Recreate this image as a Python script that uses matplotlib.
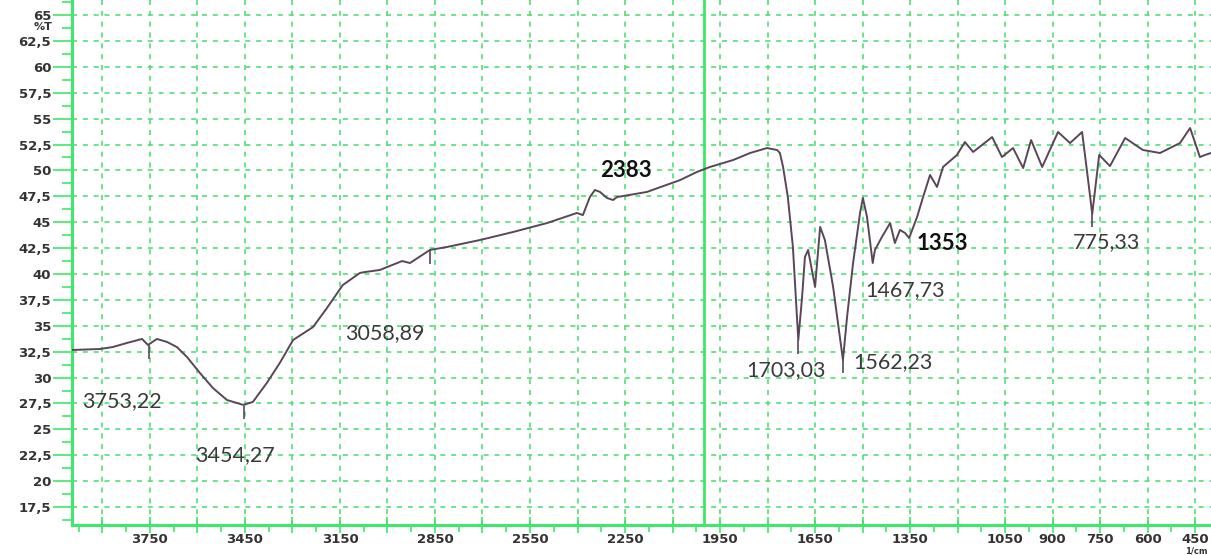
import numpy as np
import matplotlib
matplotlib.use("Agg")
import matplotlib.pyplot as plt
from matplotlib.ticker import MultipleLocator, FuncFormatter

# IR spectrum, wavenumber (1/cm) vs transmittance (%T)
wavenumber = [4000, 3908, 3867, 3823, 3775, 3756, 3728, 3696, 3665, 3633,
              3592, 3551, 3507, 3455, 3425, 3381, 3340, 3298, 3235, 3191,
              3141, 3087, 3071, 3024, 2954, 2929, 2866, 2812, 2708, 2604,
              2496, 2402, 2383, 2361, 2345, 2329, 2307, 2288, 2275, 2181,
              2076, 2023, 1982, 1909, 1855, 1802, 1770, 1761, 1751, 1736,
              1720, 1703, 1691, 1682, 1672, 1650, 1634, 1619, 1593, 1562,
              1549, 1530, 1508, 1499, 1486, 1468, 1461, 1439, 1413, 1398,
              1382, 1366, 1353, 1328, 1309, 1287, 1265, 1246, 1202, 1177,
              1151, 1091, 1060, 1025, 993, 968, 933, 883, 845, 807,
              788, 775, 753, 719, 671, 615, 561, 498, 466, 435,
              419, 400]
transmittance = [32.66, 32.76, 32.95, 33.34, 33.73, 33.15, 33.73, 33.44, 32.95, 31.99,
                 30.44, 28.99, 27.84, 27.36, 27.65, 29.48, 31.41, 33.63, 34.88, 36.72,
                 38.94, 40.10, 40.19, 40.39, 41.25, 41.06, 42.32, 42.61, 43.28, 44.05,
                 44.92, 45.89, 45.69, 47.43, 48.11, 47.92, 47.34, 47.14, 47.43, 47.92,
                 49.07, 49.85, 50.33, 51.00, 51.68, 52.16, 51.97, 51.68, 50.33, 47.43,
                 42.61, 33.63, 37.78, 41.64, 42.32, 38.75, 44.54, 43.28, 38.75, 31.70,
                 35.85, 41.06, 45.89, 47.34, 45.50, 41.06, 42.32, 43.57, 44.92, 42.99,
                 44.25, 43.96, 43.47, 45.50, 47.43, 49.56, 48.40, 50.33, 51.49, 52.74,
                 51.78, 53.22, 51.29, 52.16, 50.23, 52.93, 50.33, 53.71, 52.64, 53.71,
                 49.07, 45.79, 51.49, 50.42, 53.13, 51.97, 51.68, 52.64, 54.09, 51.29,
                 51.49, 51.68]

# peak labels: text, x, y of label
peak_text = ["3753,22", "3454,27", "3058,89", "2383", "1703,03",
             "1562,23", "1467,73", "1353", "775,33"]
peak_x = [3965, 3608, 3134, 2329, 1868, 1530, 1492, 1331, 836]
peak_y = [27.7, 22.5, 34.3, 50.0, 30.7, 31.5, 38.4, 42.9, 43.1]
peak_bold = [False, False, False, True, False, False, False, True, False]

# small peak markers under the trace
mark_x = [3753, 3454, 2866, 1703, 1562, 775]
mark_top = [33.1, 27.3, 42.3, 33.6, 31.7, 45.8]

x_labels = [3750, 3450, 3150, 2850, 2550, 2250, 1950, 1650, 1350, 1050, 900, 750, 600, 450]

green = "#3ee86a"
grid_green = "#55dd77"
trace = "#5a4658"

fig = plt.figure(figsize=(12.11, 5.55), dpi=100)
ax = fig.add_axes([72 / 1211, 30 / 555, 1 - 72 / 1211, 525 / 555])

ax.plot(wavenumber, transmittance, color=trace, lw=1.4, zorder=3)
ax.vlines(mark_x, [t - 1.3 for t in mark_top], mark_top, color=trace, lw=1.2, zorder=3)

for t, x, y, b in zip(peak_text, peak_x, peak_y, peak_bold):
    ax.text(x, y, t, ha="left", va="center", fontsize=16 if b else 15.5,
            family="Lato", fontweight="bold" if b else "normal",
            color="#111111" if b else "#3a3a3a", zorder=4)

ax.axvline(2000, color=green, lw=2, zorder=2)

ax.set_xlim(3996, 400)
ax.set_ylim(15.77, 66.45)

ax.xaxis.set_major_locator(MultipleLocator(150))
ax.xaxis.set_minor_locator(MultipleLocator(75))
ax.xaxis.set_major_formatter(FuncFormatter(
    lambda v, p: str(int(round(v))) if int(round(v)) in x_labels else ""))
ax.yaxis.set_major_locator(MultipleLocator(2.5))
ax.yaxis.set_minor_locator(MultipleLocator(1.25))
ax.yaxis.set_major_formatter(FuncFormatter(
    lambda v, p: ("%g" % v).replace(".", ",") if 17 < v < 66 else ""))

ax.grid(which="major", color=grid_green, lw=1.2, ls=(0, (3, 3.5)), zorder=1)

for s in ["top", "right"]:
    ax.spines[s].set_visible(False)
for s in ["left", "bottom"]:
    ax.spines[s].set_color(green)
    ax.spines[s].set_linewidth(2.2)

ax.tick_params(axis="x", which="major", direction="inout", length=12, width=1.2,
               color=green, labelsize=9.5, labelcolor="#333333", pad=0)
ax.tick_params(axis="x", which="minor", direction="out", length=5, width=1.2, color=green)
ax.tick_params(axis="y", which="major", direction="out", length=14, width=1.2,
               color=green, labelsize=9.5, labelcolor="#333333", pad=1)
ax.tick_params(axis="y", which="minor", direction="out", length=7, width=1.2, color=green)
for lab in ax.get_xticklabels() + ax.get_yticklabels():
    lab.set_fontweight("bold")

fig.text(52 / 1211, 1 - 27 / 555, "%T", ha="right", va="center",
         fontsize=8, fontweight="bold", color="#333333")
fig.text(1208 / 1211, 1 - 551 / 555, "1/cm", ha="right", va="center",
         fontsize=6, fontweight="bold", color="#333333")

fig.savefig("out.png", dpi=100, facecolor="white")
